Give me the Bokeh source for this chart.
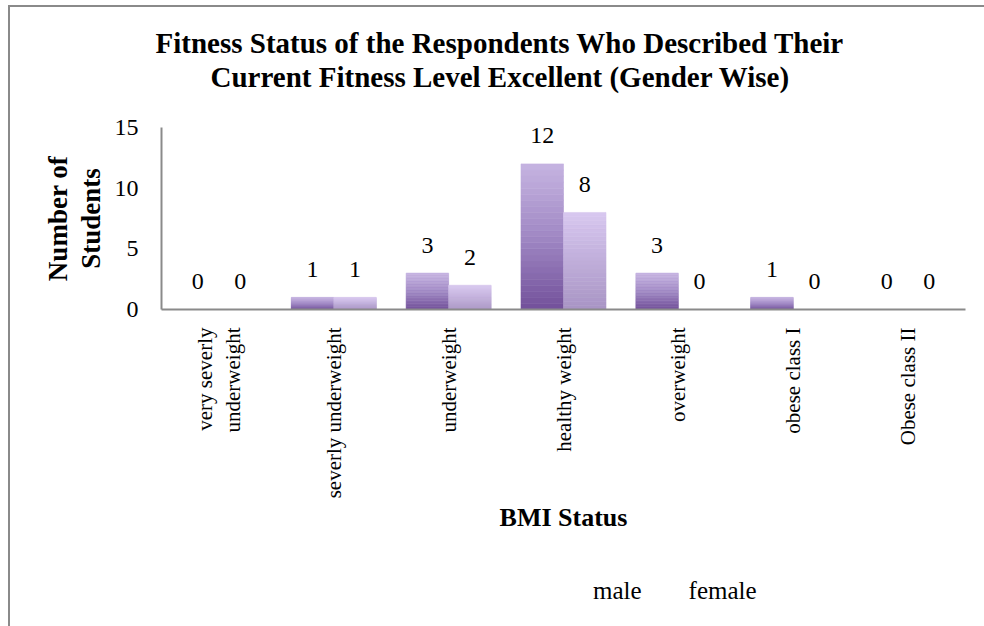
import numpy as np
from bokeh.plotting import figure
from bokeh.layouts import column
from bokeh.models import (FactorRange, Range1d, FixedTicker, Title, Legend, LegendItem,
                          ColumnDataSource, InlineStyleSheet)
from bokeh.transform import dodge
from bokeh.core.properties import value
from bokeh.embed import file_html
from bokeh.resources import INLINE

# ---- data ----
categories = ["very severly\nunderweight", "severly underweight", "underweight",
              "healthy weight", "overweight", "obese class I", "Obese class II"]
male = [0, 1, 3, 12, 3, 1, 0]
female = [0, 1, 2, 8, 0, 0, 0]
series_names = ["male", "female"]
y_ticks = [0, 5, 10, 15]

FONT = "Liberation Serif"

top_css = InlineStyleSheet(css="""
:host::after {
  content: '';
  position: absolute;
  left: 8px; top: 5px; right: 0; bottom: 0;
  border-left: 2px solid #8a8a8a;
  border-top: 2px solid #8a8a8a;
  pointer-events: none;
}
""")
bottom_css = InlineStyleSheet(css="""
:host::after {
  content: '';
  position: absolute;
  left: 8px; top: 0; right: 0; bottom: 0;
  border-left: 2px solid #8a8a8a;
  pointer-events: none;
}
""")

p = figure(x_range=FactorRange(*categories), y_range=Range1d(0, 15),
           frame_width=804, frame_height=182, output_backend="svg", toolbar_location=None,
           title=None, min_border_left=161, min_border_right=19,
           min_border_top=127, min_border_bottom=241, stylesheets=[top_css])
p.outline_line_color = None
p.grid.visible = False
p.background_fill_color = "white"
p.border_fill_color = "white"


def hex2rgb(h):
    h = h.lstrip("#")
    return np.array([int(h[i:i + 2], 16) for i in (0, 2, 4)], dtype=float)


def grad(stops, t):
    for (p0, c0), (p1, c1) in zip(stops[:-1], stops[1:]):
        if p0 <= t <= p1:
            f = (t - p0) / (p1 - p0)
            c = hex2rgb(c0) * (1 - f) + hex2rgb(c1) * f
            return "#%02x%02x%02x" % tuple(int(round(v)) for v in c)
    return stops[-1][1]


male_stops = [(0.0, "#72509a"), (0.5, "#a088c4"), (1.0, "#c6b4e1")]
female_stops = [(0.0, "#a894c4"), (1.0, "#d8c8f0")]

N = 24
bar_w = 0.37
offsets = [-0.185, 0.185]
legend_colors = {}
for name, vals, stops, off in [("male", male, male_stops, offsets[0]),
                               ("female", female, female_stops, offsets[1])]:
    for k in range(N):
        t = (k + 0.5) / N
        col = grad(stops, t)
        src = ColumnDataSource(dict(
            x=categories,
            bottom=[v * k / N for v in vals],
            top=[v * (k + 1) / N for v in vals],
        ))
        p.vbar(x=dodge("x", off, range=p.x_range), bottom="bottom", top="top",
               width=bar_w, source=src, fill_color=col, line_color=col, line_width=0.6)
    legend_colors[name] = grad(stops, 0.55)

# data labels
for vals, off in [(male, offsets[0]), (female, offsets[1])]:
    lsrc = ColumnDataSource(dict(x=categories, y=vals, t=[str(v) for v in vals]))
    p.text(x=dodge("x", off, range=p.x_range), y="y", text="t", source=lsrc,
           text_font=value(FONT), text_font_size="24px", text_color="black",
           text_align="center", text_baseline="alphabetic", y_offset=-28)

# axes
for ax in (p.xaxis, p.yaxis):
    ax.axis_line_color = "#8a8a8a"
    ax.axis_line_width = 2
    ax.major_tick_line_color = None
    ax.minor_tick_line_color = None
    ax.major_label_text_font = FONT
    ax.major_label_text_color = "black"
    ax.axis_label_text_font = FONT
    ax.axis_label_text_font_style = "bold"
    ax.axis_label_text_color = "black"

p.yaxis.ticker = FixedTicker(ticks=y_ticks)
p.yaxis.major_label_text_font_size = "24px"
p.yaxis.major_label_standoff = 17
p.yaxis.axis_label = "Number of\nStudents"
p.yaxis.axis_label_text_font_size = "27px"
p.yaxis.axis_label_text_line_height = 1.1
p.yaxis.axis_label_standoff = 6

p.xaxis.major_label_orientation = np.pi / 2
p.xaxis.major_label_text_font_size = "21px"
p.xaxis.major_label_standoff = 12
p.xaxis.axis_label = "BMI Status"
p.xaxis.axis_label_text_font_size = "26px"
p.xaxis.axis_label_standoff = 2

# titles: spacer nearest the plot, then line 2, then line 1
spacer = Title(text=" ", text_font_size="1px", standoff=32)
t2 = Title(text="Current Fitness Level Excellent (Gender Wise)", align="left", offset=49,
           text_font=FONT, text_font_size="29px", text_font_style="bold",
           text_color="black", standoff=0)
t1 = Title(text="Fitness Status of the Respondents Who Described Their", align="left", offset=-6,
           text_font=FONT, text_font_size="29px", text_font_style="bold",
           text_color="black", standoff=0)
p.add_layout(spacer, "above")
p.add_layout(t2, "above")
p.add_layout(t1, "above")

# ---- legend strip (separate small figure below the chart) ----
lg = figure(x_range=Range1d(0, 1), y_range=Range1d(0, 1), width=984, height=76,
            output_backend="svg", toolbar_location=None, title=None,
            x_axis_type=None, y_axis_type=None, min_border=0, stylesheets=[bottom_css])
lg.outline_line_color = None
lg.grid.visible = False
lg.background_fill_color = "white"
lg.border_fill_color = "white"
items = []
for n in series_names:
    r = lg.vbar(x=[], top=[], width=0.1, fill_color=legend_colors[n], line_color=legend_colors[n])
    items.append(LegendItem(label=n, renderers=[r]))
legend = Legend(items=items, orientation="horizontal", location=(412, 21),
                label_text_font=FONT, label_text_font_size="25px", label_text_color="black",
                glyph_width=14, glyph_height=14, label_standoff=6, spacing=27,
                padding=0, margin=0, border_line_color=None, background_fill_alpha=0)
lg.add_layout(legend)

layout = column(p, lg, spacing=0)
open("out.html", "w").write(file_html(layout, INLINE))
